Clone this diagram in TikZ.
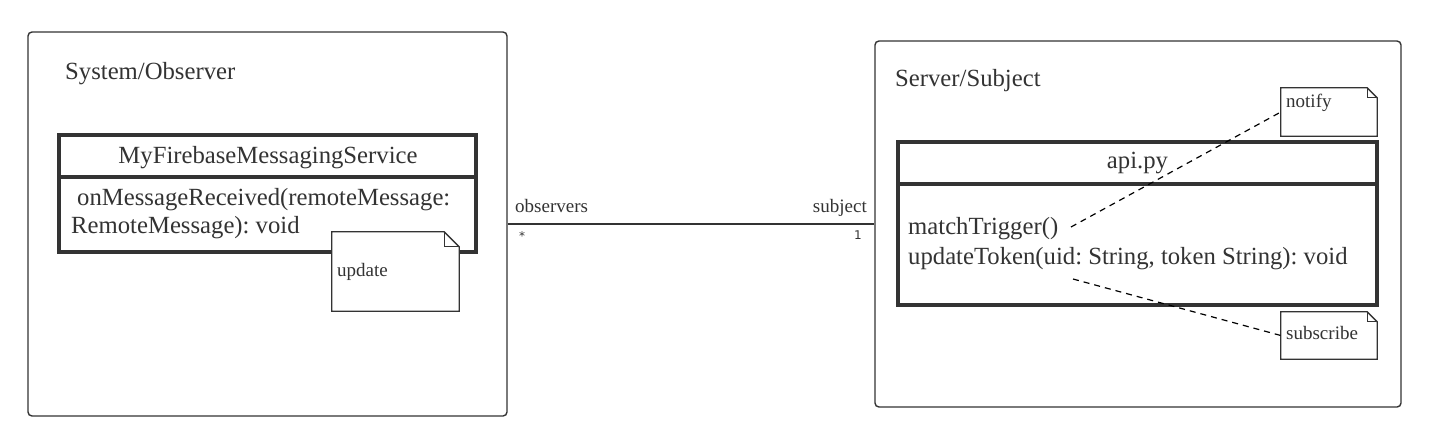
\documentclass[tikz,border=0pt]{standalone}
\usepackage{fontspec}
\setmainfont{Liberation Serif}
\newfontfamily\multfont{DejaVu Sans}
\definecolor{ink}{HTML}{333333}
\begin{document}
\frenchspacing
\begin{tikzpicture}[x=1pt,y=-1pt,
  frame/.style={draw=ink, line width=1.4pt, rounded corners=4pt, inner sep=0pt},
  classbox/.style={draw=ink, line width=3.5pt, inner sep=0pt},
  notebox/.style={fill=white, draw=none, inner sep=0pt},
  bigtxt/.style={font=\fontsize{24.7}{29}\selectfont, text=ink, inner sep=0pt},
  smalltxt/.style={font=\fontsize{19}{22}\selectfont, text=ink, inner sep=0pt},
  multtxt/.style={font=\multfont\fontsize{12}{14}\selectfont, text=ink, inner sep=0pt},
  assoc/.style={draw=ink, line width=1.4pt},
  link/.style={draw=black, line width=1.2pt, dash pattern=on 6pt off 5pt},
  notebd/.style={draw=ink, line width=1.3pt}
]
\useasboundingbox (0,0) rectangle (1433,445);
\newcommand{\dogear}[2]{%
  \draw[notebd] (#1.north west) -- ([xshift=-#2]#1.north east) -- ([yshift=-#2]#1.north east) -- (#1.south east) -- (#1.south west) -- cycle;
  \draw[notebd] ([xshift=-#2]#1.north east) -- ([xshift=-#2,yshift=-#2]#1.north east) -- ([yshift=-#2]#1.north east);}

% frames
\node[frame, minimum width=479pt, minimum height=384pt] (sys) at (267.5,224) {};
\node[frame, minimum width=526pt, minimum height=366pt] (srv) at (1138,224) {};
\node[bigtxt, anchor=base west] (systitle) at (65,79) {System/Observer};
\node[bigtxt, anchor=base west] (srvtitle) at (895,86) {Server/Subject};

% left class
\node[classbox, minimum width=417pt, minimum height=117pt] (fms) at (267.5,193.5) {};
\coordinate (fmsdivl) at (59,177);
\coordinate (fmsdivr) at (476,177);
\draw[ink, line width=3.5pt] (fmsdivl) -- (fmsdivr);
\node[bigtxt, anchor=base] (fmsname) at (268,163) {MyFirebaseMessagingService};
\node[bigtxt, anchor=base west] (fmsop1) at (77,205) {onMessageReceived(remoteMessage:};
\node[bigtxt, anchor=base west] (fmsop2) at (71,233) {RemoteMessage): void};

% right class
\node[classbox, minimum width=479pt, minimum height=163pt] (api) at (1137.5,223.5) {};
\coordinate (apidivl) at (898,184);
\coordinate (apidivr) at (1377,184);
\draw[ink, line width=3.5pt] (apidivl) -- (apidivr);
\node[bigtxt, anchor=base] (apiname) at (1137.5,168) {api.py};
\node[bigtxt, anchor=base west] (apiop1) at (908,234) {matchTrigger()};
\node[bigtxt, anchor=base west] (apiop2) at (908,264) {updateToken(uid: String, token String): void};

% notes
\node[notebox, minimum width=127pt, minimum height=79pt] (update) at (395.5,271.5) {};
\dogear{update}{15pt}
\node[smalltxt, anchor=base west] (updatetxt) at (337,276) {update};

\node[notebox, minimum width=96pt, minimum height=48pt] (notify) at (1329,112) {};
\dogear{notify}{10pt}
\node[smalltxt, anchor=base west] (notifytxt) at (1286,107) {notify};

\node[notebox, minimum width=96pt, minimum height=47pt] (subscribe) at (1329,335.5) {};
\dogear{subscribe}{10pt}
\node[smalltxt, anchor=base west] (subscribetxt) at (1286,339) {subscribe};

% dashed anchors
\coordinate (mtend) at (1071,227);
\coordinate (utend) at (1073,279);
\draw[link] (mtend) -- (notify.west);
\draw[link] (utend) -- (subscribe.west);

% association
\draw[assoc] (sys.east) -- (srv.west);
\node[smalltxt, anchor=base west] (obslbl) at (515,212) {observers};
\node[smalltxt, anchor=base east] (subjlbl) at (867,212) {subject};
\node[multtxt, anchor=base west] (obsmult) at (519,240) {*};
\node[multtxt, anchor=base east] (subjmult) at (862,239) {1};
\end{tikzpicture}
\end{document}
